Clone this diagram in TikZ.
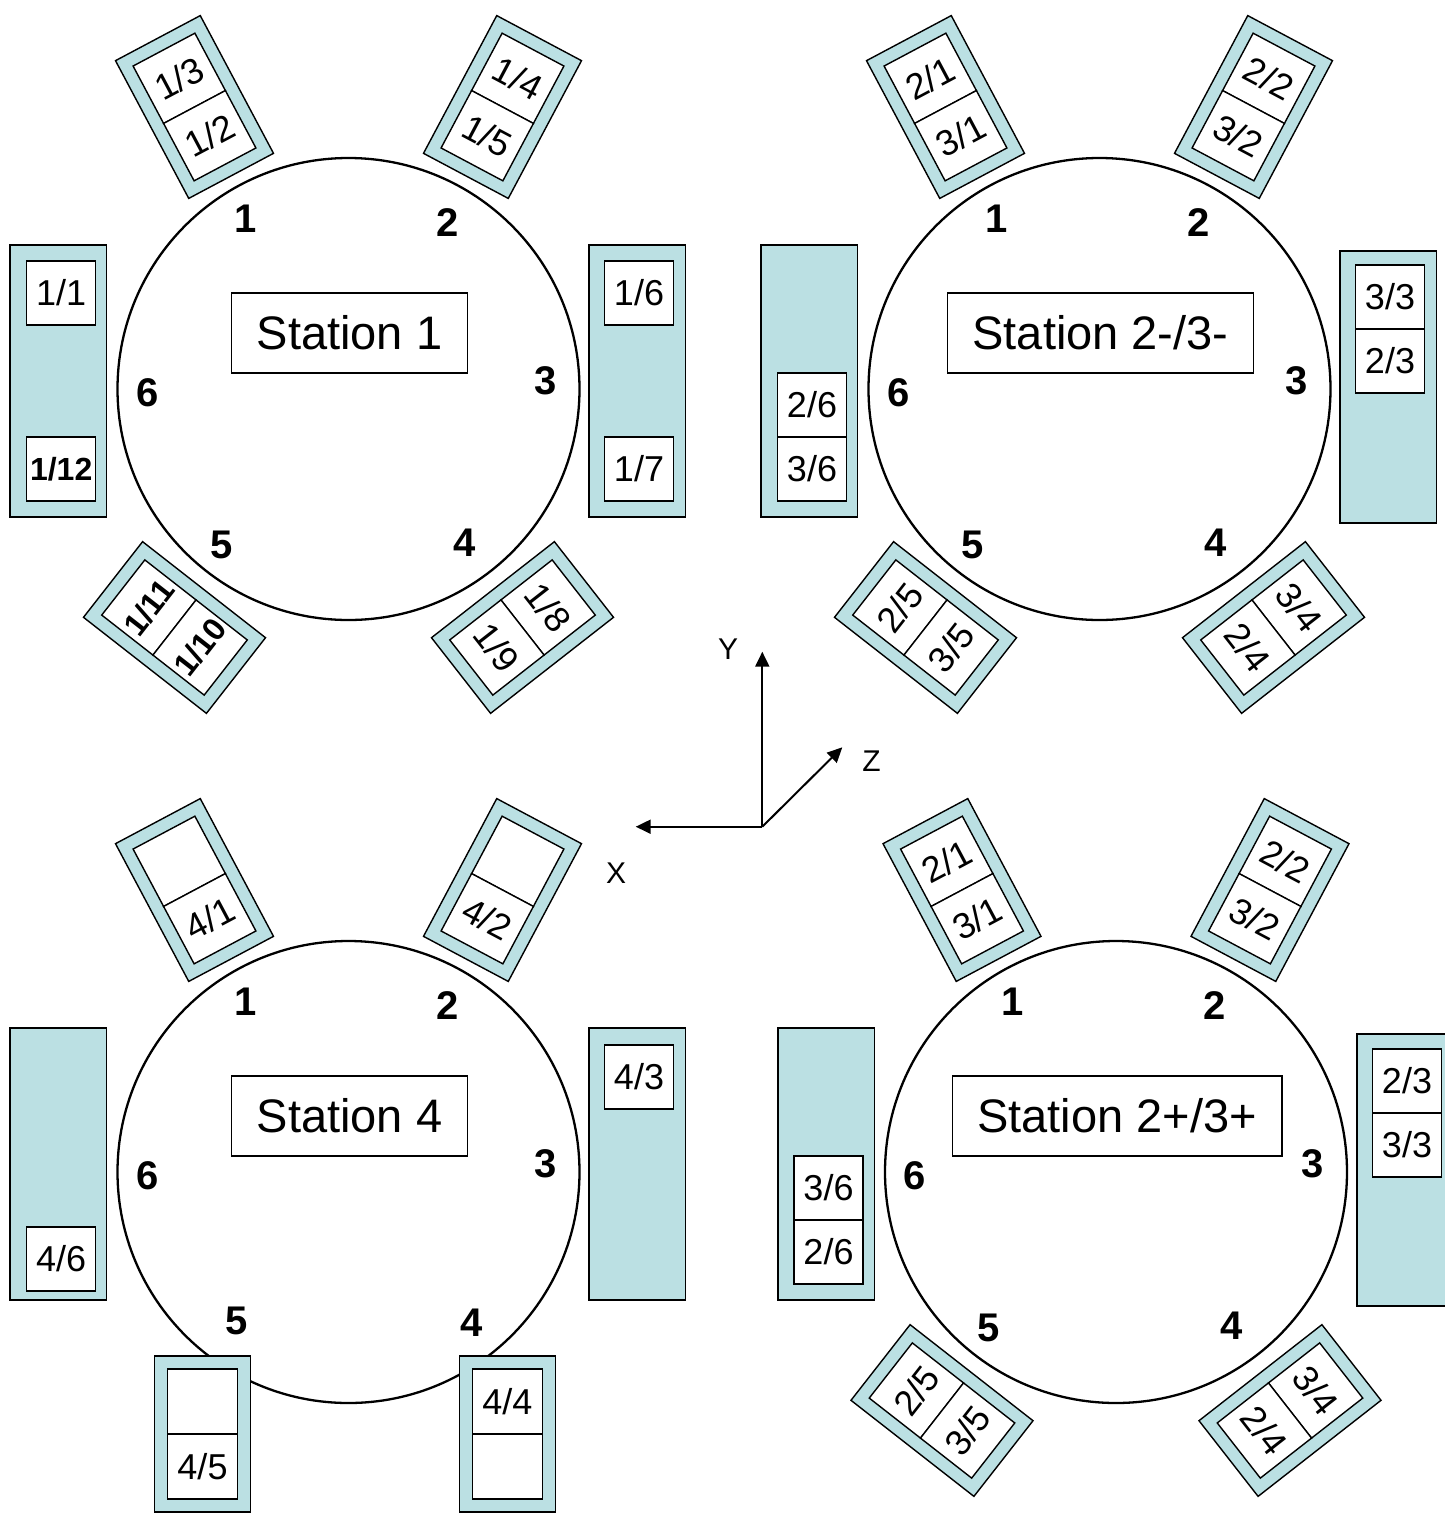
\documentclass[tikz,border=0pt]{standalone}
\usepackage{fontspec}
\setmainfont{Liberation Sans}
\usetikzlibrary{arrows.meta}
\definecolor{trayfill}{RGB}{187,224,227}
\newcommand\bsl[1]{{\fontsize{16pt}{19pt}\selectfont\bfseries #1}}
% rotated / upright two-slot holder: name, x, y, angle, top text, bottom text
\newcommand\holderR[6]{%
  \node[holder, rotate=#4] (#1) at (#2,#3) {};
  \node[rslot, rotate=#4, anchor=south] (#1a) at (#1.center) {#5};
  \node[rslot, rotate=#4, anchor=north] (#1b) at (#1.center) {#6};
}
% station: name, x, y, title
\newcommand\station[4]{%
  \node[ring] (#1) at (#2,#3) {};
  \node[titlebox] (#1-title) at ([shift={(1,-56)}]#1.center) {#4};
  \node[num] (#1-n1) at ([shift={(-103,-170)}]#1.center) {1};
  \node[num] (#1-n2) at ([shift={(99,-166)}]#1.center) {2};
  \node[num] (#1-n3) at ([shift={(197,-8)}]#1.center) {3};
  \node[num] (#1-n6) at ([shift={(-201,4)}]#1.center) {6};
}
\begin{document}
\begin{tikzpicture}[x=0.5pt,y=-0.5pt,
  ring/.style={circle, draw, line width=1.15pt, minimum size=231pt, inner sep=0pt, fill=white},
  titlebox/.style={draw, line width=0.7pt, fill=white, minimum height=40pt, inner xsep=12.5pt, inner ysep=0pt, font=\fontsize{23.5pt}{28pt}\selectfont},
  num/.style={inner sep=0pt, font=\fontsize{20pt}{24pt}\selectfont\bfseries},
  tray/.style={draw, line width=0.7pt, fill=trayfill, inner sep=0pt, outer sep=0pt},
  sidetray/.style={tray, minimum width=48.25pt, minimum height=136pt, anchor=north west},
  holder/.style={tray, minimum width=48pt, minimum height=78pt},
  slot/.style={draw, line width=0.7pt, fill=white, inner sep=0pt, outer sep=0pt, minimum width=34.5pt, minimum height=32pt, font=\fontsize{18pt}{21pt}\selectfont},
  sslot/.style={slot, anchor=north},
  rslot/.style={slot, minimum width=35pt, minimum height=32.5pt},
  axis/.style={line width=1pt, -{Triangle[length=7.5pt,width=7pt]}},
  axlabel/.style={inner sep=0pt, font=\fontsize{15pt}{18pt}\selectfont},
]
\useasboundingbox (0,0) rectangle (1445,1516);
\clip (0,0) rectangle (1445,1516);
\fill[white] (0,0) rectangle (1445,1516);

% ---------------- Station 1 ----------------
\station{S1}{348.5}{389}{Station 1}
\node[num] (S1-n4) at ([shift={(116,154)}]S1.center) {4};
\node[num] (S1-n5) at ([shift={(-127,156)}]S1.center) {5};
\node[sidetray] (S1L) at (10,245) {};
\node[sslot] (S1L1) at (61.2,261) {1/1};
\node[sslot] (S1L2) at (61.2,437) {\bsl{1/12}};
\node[sidetray] (S1R) at (589,245) {};
\node[sslot] (S1R1) at (639,261) {1/6};
\node[sslot] (S1R2) at (639,437) {1/7};
\holderR{S1h1}{194.5}{107}{28}{1/3}{1/2}
\holderR{S1h2}{502.5}{107}{-28}{1/4}{1/5}
\holderR{S1h4}{522.5}{627.5}{-52}{1/8}{1/9}
\holderR{S1h5}{174.5}{627.5}{52}{\bsl{1/11}}{\bsl{1/10}}

% ---------------- Station 2-/3- ----------------
\station{S2m}{1099.5}{389}{Station 2-/3-}
\node[num] (S2m-n4) at ([shift={(116,154)}]S2m.center) {4};
\node[num] (S2m-n5) at ([shift={(-127,156)}]S2m.center) {5};
\node[sidetray] (S2mL) at (761,245) {};
\node[sslot] (S2mL1) at (812,373) {2/6};
\node[sslot] (S2mL2) at (812,437) {3/6};
\node[sidetray] (S2mR) at (1340,251) {};
\node[sslot] (S2mR1) at (1390,265) {3/3};
\node[sslot] (S2mR2) at (1390,329) {2/3};
\holderR{S2mh1}{945.5}{107}{28}{2/1}{3/1}
\holderR{S2mh2}{1253.5}{107}{-28}{2/2}{3/2}
\holderR{S2mh4}{1273.5}{627.5}{-52}{3/4}{2/4}
\holderR{S2mh5}{925.5}{627.5}{52}{2/5}{3/5}

% ---------------- Station 4 ----------------
\station{S4}{348.5}{1172}{Station 4}
\node[num] (S4-n4) at ([shift={(123.5,151)}]S4.center) {4};
\node[num] (S4-n5) at ([shift={(-111.5,149)}]S4.center) {5};
\node[sidetray] (S4L) at (10,1028) {};
\node[sslot] (S4L1) at (61.2,1227) {4/6};
\node[sidetray] (S4R) at (589,1028) {};
\node[sslot] (S4R1) at (639,1045) {4/3};
\holderR{S4h1}{194.5}{890}{28}{}{4/1}
\holderR{S4h2}{502.5}{890}{-28}{}{4/2}
\holderR{S4h5}{202.5}{1434}{0}{}{4/5}
\holderR{S4h4}{507.3}{1434}{0}{4/4}{}

% ---------------- Station 2+/3+ ----------------
\station{S2p}{1116}{1172}{Station 2+/3+}
\node[num] (S2p-n4) at ([shift={(116,154)}]S2p.center) {4};
\node[num] (S2p-n5) at ([shift={(-127,156)}]S2p.center) {5};
\node[sidetray] (S2pL) at (778,1028) {};
\node[sslot] (S2pL1) at (828.5,1156) {3/6};
\node[sslot] (S2pL2) at (828.5,1220) {2/6};
\node[sidetray] (S2pR) at (1357,1034) {};
\node[sslot] (S2pR1) at (1407,1049) {2/3};
\node[sslot] (S2pR2) at (1407,1113) {3/3};
\holderR{S2ph1}{962}{890}{28}{2/1}{3/1}
\holderR{S2ph2}{1270}{890}{-28}{2/2}{3/2}
\holderR{S2ph4}{1290}{1410.5}{-52}{3/4}{2/4}
\holderR{S2ph5}{942}{1410.5}{52}{2/5}{3/5}

% ---------------- Axes ----------------
\coordinate (O) at (762.3,826.7);
\coordinate (Xe) at (635.7,826.7);
\coordinate (Ye) at (762.3,651.7);
\coordinate (Ze) at (842.3,747.3);
\draw[axis] (O) -- (Xe);
\draw[axis] (O) -- (Ye);
\draw[axis] (O) -- (Ze);
\node[axlabel] (Xl) at (616,873) {X};
\node[axlabel] (Yl) at (728,649) {Y};
\node[axlabel] (Zl) at (871.5,761.5) {Z};
\end{tikzpicture}
\end{document}
